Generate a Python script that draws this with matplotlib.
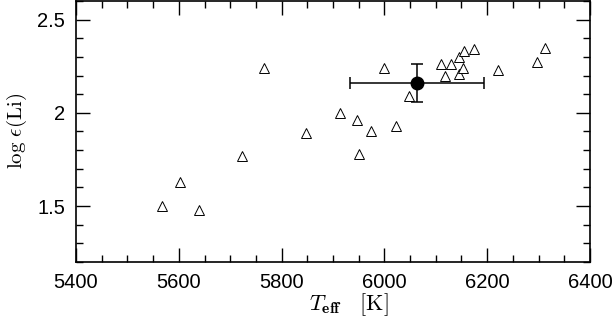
import matplotlib
matplotlib.use("Agg")
import matplotlib.pyplot as plt
from matplotlib.ticker import MultipleLocator

# stars (open triangles)
teff = [5568, 5602, 5639, 5722, 5765, 5847, 5914, 5947, 5951, 5973, 6000, 6022,
        6048, 6110, 6117, 6129, 6145, 6146, 6153, 6155, 6175, 6222, 6296, 6313]
logli = [1.50, 1.63, 1.48, 1.77, 2.24, 1.89, 2.00, 1.96, 1.78, 1.90, 2.24, 1.93,
         2.09, 2.26, 2.20, 2.26, 2.30, 2.21, 2.24, 2.33, 2.34, 2.23, 2.27, 2.35]

# mean point with error bars
mean_teff = 6063
mean_logli = 2.16
err_teff = 130
err_logli = 0.10

plt.rcParams['mathtext.fontset'] = 'cm'
plt.rcParams['font.family'] = ['Liberation Sans', 'DejaVu Sans']

fig = plt.figure(figsize=(6.15, 3.22), dpi=100)
ax = fig.add_axes([0.1236, 0.1863, 0.8357, 0.8107])

ax.plot(teff, logli, linestyle='none', marker='^', markersize=7,
        markerfacecolor='white', markeredgecolor='black', markeredgewidth=0.7)
ax.errorbar(mean_teff, mean_logli, xerr=err_teff, yerr=err_logli, fmt='o',
            color='black', markersize=9, elinewidth=1.1, capsize=4, capthick=1.1)

ax.set_xlim(5400, 6400)
ax.set_ylim(1.2, 2.6)
ax.xaxis.set_major_locator(MultipleLocator(200))
ax.xaxis.set_minor_locator(MultipleLocator(50))
ax.yaxis.set_major_locator(MultipleLocator(0.5))
ax.yaxis.set_minor_locator(MultipleLocator(0.1))
ax.yaxis.set_major_formatter(plt.FuncFormatter(lambda v, p: f"{v:g}"))

ax.tick_params(which='both', direction='in', top=True, right=True,
               width=1.0, labelsize=14.5, pad=8)
ax.tick_params(which='major', length=10)
ax.tick_params(which='minor', length=5)
for s in ax.spines.values():
    s.set_linewidth(1.2)

ax.set_xlabel(r'$T_{\mathbf{eff}}\ \ \ [\mathrm{K}]$', fontsize=16, labelpad=0)
ax.xaxis.set_label_coords(0.53, -0.112)
ax.set_ylabel(r'$\log\,\epsilon(\mathrm{Li})$', fontsize=15, labelpad=6)

fig.savefig('out.png', dpi=100)
